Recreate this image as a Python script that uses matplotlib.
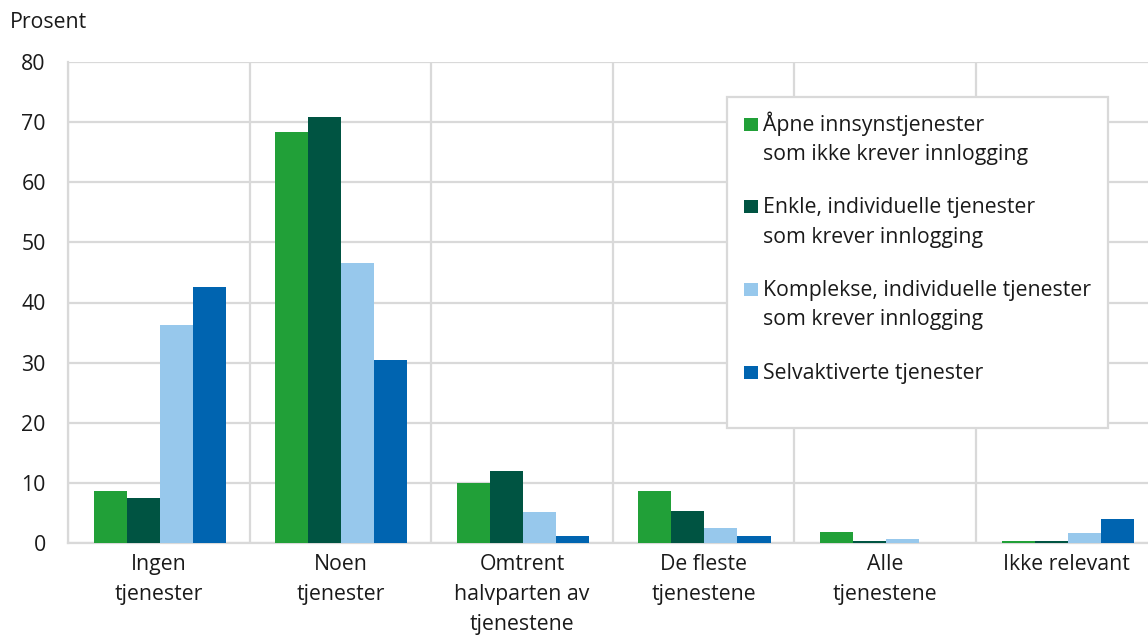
import matplotlib
matplotlib.use("Agg")
import matplotlib.pyplot as plt
import numpy as np
from matplotlib.patches import Rectangle

plt.rcParams["font.family"] = ["Open Sans", "DejaVu Sans"]

categories = ["Ingen\ntjenester", "Noen\ntjenester", "Omtrent\nhalvparten av\ntjenestene",
              "De fleste\ntjenestene", "Alle\ntjenestene", "Ikke relevant"]
series_names = ["Åpne innsynstjenester\nsom ikke krever innlogging",
                "Enkle, individuelle tjenester\nsom krever innlogging",
                "Komplekse, individuelle tjenester\nsom krever innlogging",
                "Selvaktiverte tjenester"]
apne = [8.6, 68.3, 9.9, 8.6, 1.8, 0.3]
enkle = [7.5, 70.9, 11.9, 5.4, 0.3, 0.3]
komplekse = [36.2, 46.5, 5.1, 2.5, 0.6, 1.6]
selvaktiverte = [42.6, 30.4, 1.2, 1.2, 0.0, 4.0]
series = [apne, enkle, komplekse, selvaktiverte]
colors = ["#21a038", "#005442", "#97c8ec", "#0064b0"]

W, H = 1148, 635
FS = 15.3
fig = plt.figure(figsize=(W / 100, H / 100), dpi=100)
ax = fig.add_axes([68 / W, (H - 543) / H, (1157.5 - 68) / W, (543 - 62) / H])

grid_c = "#d9d9d9"
x = np.arange(len(categories))
bw = 0.182
for i, (vals, c) in enumerate(zip(series, colors)):
    ax.bar(x + (i - 1.5) * bw + 0.005, vals, width=bw, color=c, zorder=3, linewidth=0)

ax.set_xlim(-0.5, len(categories) - 0.5)
ax.set_ylim(0, 80)
ax.set_yticks(np.arange(0, 81, 10))
ax.set_xticks(x)
ax.set_xticklabels(categories)
ax.set_xticks(np.arange(-0.5, len(categories), 1), minor=True)
ax.tick_params(axis="both", which="both", length=0, labelsize=FS, colors="#1a1a1a")
ax.tick_params(axis="y", pad=16)
ax.tick_params(axis="x", pad=8)
for lab in ax.get_xticklabels():
    lab.set_linespacing(1.55)

ax.grid(axis="y", which="major", color=grid_c, linewidth=1.6, zorder=0)
ax.grid(axis="x", which="minor", color=grid_c, linewidth=1.6, zorder=0)
ax.grid(axis="x", which="major", visible=False)
ax.set_axisbelow(True)
for s in ["top", "right"]:
    ax.spines[s].set_visible(False)
for s in ["left", "bottom"]:
    ax.spines[s].set_color(grid_c)
    ax.spines[s].set_linewidth(1.6)

fig.text(10 / W, 1 - 22 / H, "Prosent", fontsize=FS, color="#1a1a1a", va="center", ha="left")

# Legend drawn as a framed box with square swatches
def fx(px):
    return px / W

def fy(py):
    return 1 - py / H

fig.patches.append(Rectangle((fx(727), fy(428)), fx(1108) - fx(727), fy(97) - fy(428),
                             transform=fig.transFigure, facecolor="white",
                             edgecolor=grid_c, linewidth=1.6, zorder=5))
baselines = [130.7, 213.3, 296, 378.7]
line_gap = 29.5
for name, c, b in zip(series_names, colors, baselines):
    fig.patches.append(Rectangle((fx(744), fy(b)), fx(758) - fx(744), fy(b - 13) - fy(b),
                                 transform=fig.transFigure, facecolor=c, linewidth=0, zorder=6))
    for k, line in enumerate(name.split("\n")):
        fig.text(fx(763), fy(b + k * line_gap), line, fontsize=FS, color="#1a1a1a",
                 va="baseline", ha="left", zorder=7)

fig.savefig("out.png", dpi=100)
